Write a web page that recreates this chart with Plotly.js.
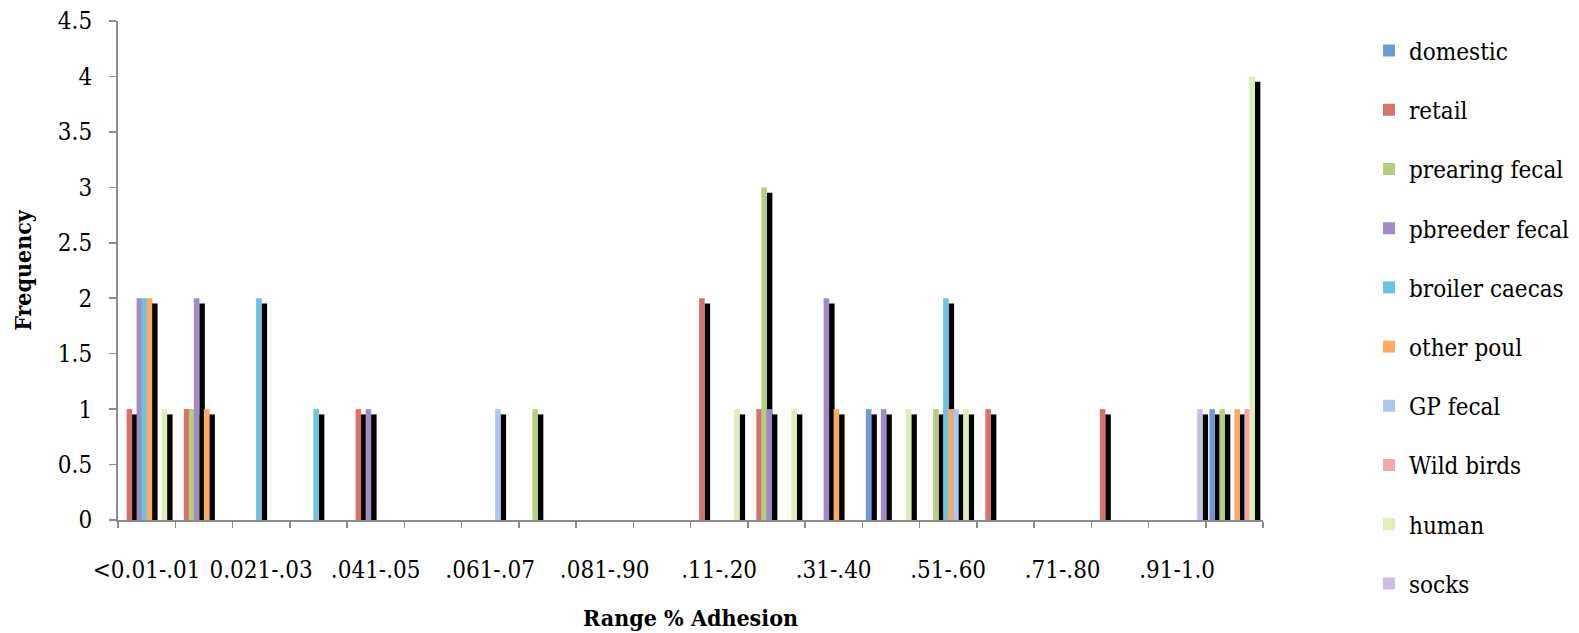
<!DOCTYPE html>
<html>
<head>
<meta charset="utf-8">
<script src="https://cdn.plot.ly/plotly-3.0.1.min.js"></script>
<style>
  html, body { margin: 0; padding: 0; background: #fff; }
  #chart { width: 1579px; height: 633px; }
</style>
</head>
<body>
<div id="chart"></div>
<script>
// ---- data ----
const categories = ['<0.01-.01', '.011-.02', '0.021-.03', '.031-.04', '.041-.05', '.051-.06', '.061-.07', '.071-.08', '.081-.90', '.091-.10',
                    '.11-.20', '.21-.30', '.31-.40', '.41-.50', '.51-.60', '.61-.70', '.71-.80', '.81-.90', '.91-1.0', '>1.0'];
const tickLabels = ['<0.01-.01', '', '0.021-.03', '', '.041-.05', '', '.061-.07', '', '.081-.90', '',
                    '.11-.20', '', '.31-.40', '', '.51-.60', '', '.71-.80', '', '.91-1.0', ''];
const seriesNames = ['domestic', 'retail', 'prearing fecal', 'pbreeder fecal', 'broiler caecas', 'other poul', 'GP fecal', 'Wild birds', 'human', 'socks'];

const domestic      = [0,0,0,0,0,0,0,0,0,0, 0,0,0,1,0,0,0,0,0,1];
const retail        = [1,1,0,0,1,0,0,0,0,0, 2,1,0,0,0,1,0,1,0,0];
const prearingFecal = [0,1,0,0,0,0,0,1,0,0, 0,3,0,0,1,0,0,0,0,1];
const pbreederFecal = [2,2,0,0,1,0,0,0,0,0, 0,1,2,1,0,0,0,0,0,0];
const broilerCaecas = [2,0,2,1,0,0,0,0,0,0, 0,0,0,0,2,0,0,0,0,0];
const otherPoul     = [2,1,0,0,0,0,0,0,0,0, 0,0,1,0,1,0,0,0,0,1];
const gpFecal       = [0,0,0,0,0,0,1,0,0,0, 0,0,0,0,1,0,0,0,0,0];
const wildBirds     = [0,0,0,0,0,0,0,0,0,0, 0,0,0,0,0,0,0,0,0,1];
const human         = [1,0,0,0,0,0,0,0,0,0, 1,1,0,1,1,0,0,0,0,4];
const socks         = [0,0,0,0,0,0,0,0,0,0, 0,0,0,0,0,0,0,0,1,0];

const seriesValues = [domestic, retail, prearingFecal, pbreederFecal, broilerCaecas, otherPoul, gpFecal, wildBirds, human, socks];

// ---- styling ----
const colors = ['#6F9BD4', '#D8716E', '#B4CF7E', '#A28BC4', '#6CC4DE', '#FAAA66', '#ADC8EE', '#EFA9A8', '#DDEDBB', '#CDBFE3'];
const FONT = '"DejaVu Serif Condensed", "DejaVu Serif", serif';

const W = 1579, H = 633;
const margin = { l: 118, r: 316, t: 21, b: 113, autoexpand: false };
const plotW = W - margin.l - margin.r;
const plotH = H - margin.t - margin.b;
const yMax = 4.5;
const catPx = plotW / categories.length;     // px per category
const u = 1 / catPx;                          // category units per px
const sidePx = 3.6, stepPx = 5.0, barPx = 5.6;
const shadowDx = 5.4 * u;
const shadowDy = 5.3 * yMax / plotH;

const shadows = [], bars = [];
seriesNames.forEach((name, i) => {
  const off = -0.5 + (sidePx + i * stepPx) * u;
  shadows.push({
    type: 'bar', x: categories, y: seriesValues[i],
    base: -shadowDy, offset: off + shadowDx, width: barPx * u,
    marker: { color: '#000000', line: { width: 0 } },
    showlegend: false, hoverinfo: 'skip'
  });
  bars.push({
    type: 'bar', name: name, x: categories, y: seriesValues[i],
    offset: off, width: barPx * u, legendgroup: name,
    marker: { color: colors[i], line: { width: 0 } },
    hoverinfo: 'skip'
  });
});

const axisColor = '#8c8c8c';
const layout = {
  width: W, height: H,
  margin: margin,
  paper_bgcolor: '#ffffff', plot_bgcolor: '#ffffff',
  barmode: 'overlay',
  font: { family: FONT, size: 24, color: '#000000' },
  showlegend: true,
  legend: {
    x: (1369 - margin.l) / plotW, xanchor: 'left',
    y: 0.985, yanchor: 'top',
    font: { family: FONT, size: 24, color: '#000000' },
    tracegroupgap: 25, bgcolor: 'rgba(0,0,0,0)',
    maxheight: 630
  },
  xaxis: {
    type: 'category',
    categoryorder: 'array', categoryarray: categories,
    range: [-0.5, categories.length - 0.5],
    tickmode: 'array', tickvals: categories, ticktext: tickLabels,
    tickson: 'boundaries', ticks: 'outside', ticklen: 6, tickwidth: 1.5, tickcolor: axisColor,
    showline: true, linecolor: axisColor, linewidth: 2,
    showgrid: false, zeroline: false, fixedrange: true,
    tickangle: 0, automargin: false,
    tickfont: { family: FONT, size: 24, color: '#000000' },
    ticklabelstandoff: 27,
    title: { text: '<b>Range % Adhesion</b>', font: { family: FONT, size: 23, color: '#000000' }, standoff: 27 }
  },
  yaxis: {
    range: [0, yMax], tick0: 0, dtick: 0.5,
    ticks: 'outside', ticklen: 7, tickwidth: 1.5, tickcolor: axisColor,
    showline: true, linecolor: axisColor, linewidth: 2,
    showgrid: false, zeroline: false, fixedrange: true, automargin: false,
    tickfont: { family: FONT, size: 24, color: '#000000' },
    ticklabelstandoff: 12,
    title: { text: '<b>Frequency</b>', font: { family: FONT, size: 23, color: '#000000' }, standoff: 20 }
  }
};

Plotly.newPlot('chart', shadows.concat(bars), layout, { staticPlot: true, displayModeBar: false });
</script>
</body>
</html>
